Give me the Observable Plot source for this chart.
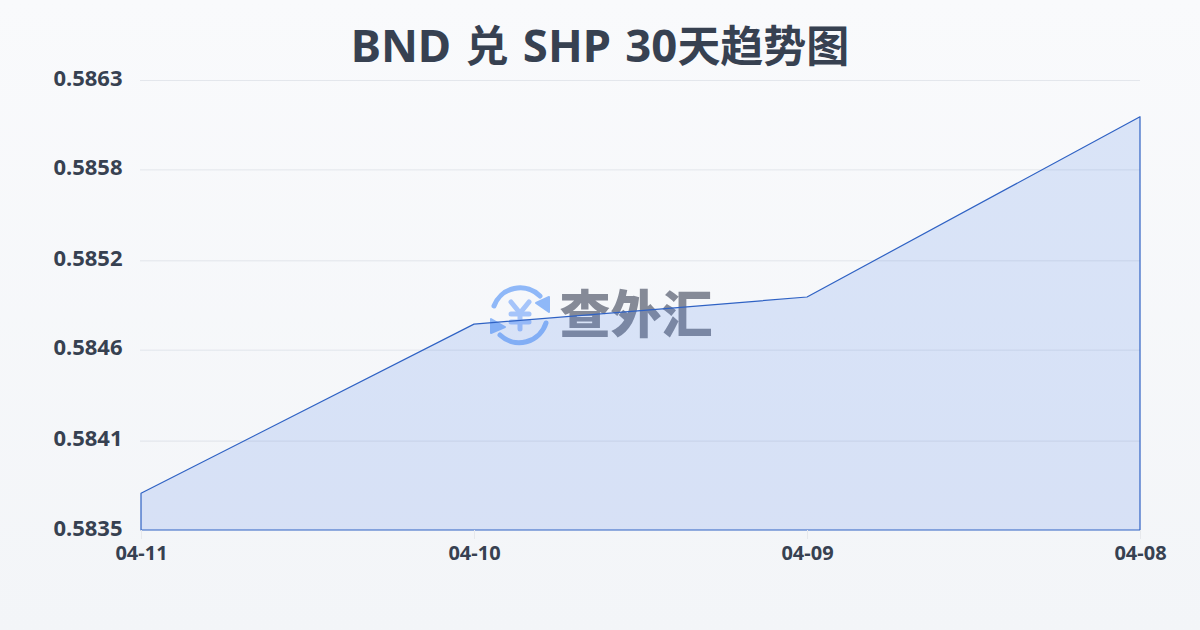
<!DOCTYPE html>
<html lang="zh">
<head>
<meta charset="utf-8">
<script src="https://cdn.jsdelivr.net/npm/d3@7"></script>
<script src="https://cdn.jsdelivr.net/npm/@observablehq/plot@0.6"></script>
<style>
html,body{margin:0;padding:0;width:1200px;height:630px;overflow:hidden}
body{position:relative;background:linear-gradient(180deg,#f9fafc 0%,#f3f5f8 100%);font-family:"Noto Sans","Noto Sans CJK SC",sans-serif}
h1{margin:0;height:70px;line-height:86px;text-align:center;font-size:45.5px;font-weight:700;color:#374151;word-spacing:2.5px;white-space:nowrap;font-family:"Noto Sans","Noto Sans CJK SC",sans-serif;position:relative;z-index:2}
h1 span{font-size:43px;font-family:"Noto Sans CJK SC",sans-serif}
#mark{position:absolute;left:0;top:0;z-index:0}
#chart{position:absolute;left:0;top:70px;z-index:1}
#chart svg{background:transparent;overflow:visible;display:block;font-family:"Noto Sans","Noto Sans CJK SC",sans-serif}
</style>
</head>
<body>
<h1 id="title"></h1>
<svg id="mark" width="1200" height="630" viewBox="0 0 1200 630">
  <g fill="none" stroke="#8fb8f8" stroke-width="5" stroke-linecap="round">
    <path d="M494 306 A28 28 0 0 1 540 296"/>
    <path d="M546 323 A28 28 0 0 1 500 335"/>
  </g>
  <path d="M549 297 L549 312 L536 303 Z" fill="#8fb8f8" stroke="#8fb8f8" stroke-width="2" stroke-linejoin="round"/>
  <path d="M491 319 L491 333 L505 327 Z" fill="#8fb8f8" stroke="#8fb8f8" stroke-width="2" stroke-linejoin="round"/>
  <g stroke="#a5c4fa" stroke-width="5" stroke-linecap="round" fill="none">
    <path d="M511 302 L520 313 L529 302"/>
    <path d="M511 314 H529"/><path d="M511 322 H529"/><path d="M520 313 V329"/>
  </g>
  <text x="636" y="333" text-anchor="middle" font-size="51" font-weight="900" fill="#858a97" font-family="Noto Sans CJK SC">查外汇</text>
</svg>
<div id="chart"></div>
<script>
const titleText = "BND 兑 SHP 30天趋势图";
const dates = ["04-11", "04-10", "04-09", "04-08"];
const rates = [0.58373, 0.58479, 0.58496, 0.58609];
const yTicks = [0.5835, 0.58406, 0.58463, 0.58519, 0.58576, 0.58632];
const rows = dates.map((date, i) => ({date, rate: rates[i]}));
document.getElementById("title").innerHTML = titleText.replace(/[\u4e00-\u9fff]+/g, s => `<span>${s}</span>`);
const textColor = "#374151";
const plot = Plot.plot({
  width: 1200, height: 560,
  marginLeft: 140, marginRight: 60, marginTop: 10, marginBottom: 100,
  style: {background: "transparent", overflow: "visible"},
  x: {type: "point", domain: dates, padding: 0, label: null},
  y: {domain: [yTicks[0], yTicks[yTicks.length - 1]], label: null},
  marks: [
    Plot.ruleY(yTicks.slice(1), {stroke: "#9aa5b8", strokeOpacity: 0.22, strokeWidth: 1}),
    Plot.areaY(rows, {x: "date", y1: yTicks[0], y2: "rate", fill: "#4a7ce6", fillOpacity: 0.17, stroke: "#2f62c4", strokeWidth: 1.2}),
    Plot.axisY({ticks: yTicks, tickFormat: d => d.toFixed(4), tickSize: 0, tickPadding: 18, fontSize: 22, fontWeight: 700, fill: textColor, dy: -2, label: null}),
    Plot.axisX({ticks: dates, tickSize: 9, tickPadding: 6, stroke: "#e6e8ec", fontSize: 20, fontWeight: 700, fill: textColor, label: null})
  ]
});
document.getElementById("chart").appendChild(plot);
</script>
</body>
</html>
